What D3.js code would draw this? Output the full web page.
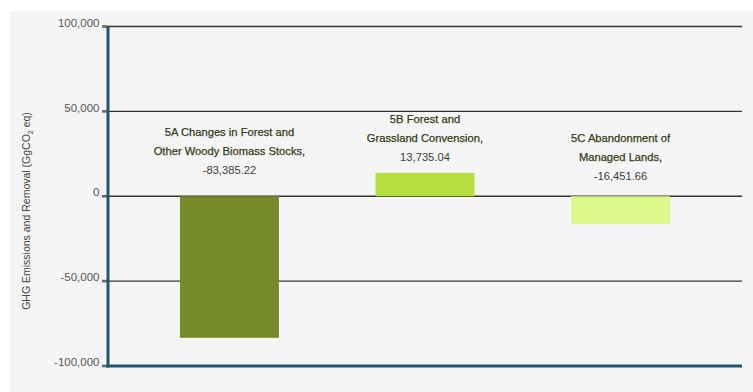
<!DOCTYPE html>
<html>
<head>
<meta charset="utf-8">
<script src="https://cdn.jsdelivr.net/npm/d3@7"></script>
<style>
  html, body { margin: 0; padding: 0; background: #ffffff; }
  svg { display: block; font-family: "Liberation Sans", Arial, Helvetica, sans-serif; }
</style>
</head>
<body>
<svg id="chart" width="753" height="392"></svg>
<script>
// LULUCF sub-categories and their net emissions / removals (GgCO2 eq)
const categories = ["5A", "5B", "5C"];
const labelLines = [
  ["5A Changes in Forest and", "Other Woody Biomass Stocks,"],
  ["5B Forest and", "Grassland Convension,"],
  ["5C Abandonment of", "Managed Lands,"]
];
const values = [-83385.22, 13735.04, -16451.66];
const barColors = ["#778a29", "#b2df3e", "#dbf98b"];
const tickValues = [-100000, -50000, 0, 50000, 100000];

(function draw() {
  const svg = d3.select("#chart");
  const W = 753, H = 392;

  // panel background
  svg.append("rect")
    .attr("x", 10).attr("y", 11)
    .attr("width", W - 10).attr("height", H - 11)
    .attr("fill", "#f5f5f5");

  const plotL = 108, plotR = 742, plotT = 26.5, plotB = 366;

  const y = d3.scaleLinear().domain([-100000, 100000]).range([plotB, plotT]);
  const x = d3.scaleBand().domain(categories).range([plotL, plotR])
    .paddingInner(0.494).paddingOuter(0.368);

  // plain hyphen for negatives
  const hy = f => v => f(v).replace("\u2212", "-");

  // horizontal grid lines
  svg.append("g").selectAll("line")
    .data(tickValues.filter(v => v !== -100000))
    .join("line")
    .attr("x1", plotL).attr("x2", plotR)
    .attr("y1", d => y(d)).attr("y2", d => y(d))
    .attr("stroke", "#333").attr("stroke-width", 1.3);

  // tick marks and labels
  const fmt = hy(d3.format(","));
  const ticks = svg.append("g");
  ticks.selectAll("rect")
    .data(tickValues)
    .join("rect")
    .attr("x", 102).attr("y", d => y(d) - 1.3)
    .attr("width", 6).attr("height", 2.6)
    .attr("fill", "#6a6a6a");
  ticks.selectAll("text")
    .data(tickValues)
    .join("text")
    .attr("x", 99.5).attr("y", d => y(d))
    .attr("dy", "0.02em")
    .attr("text-anchor", "end")
    .attr("font-size", 11.5)
    .attr("fill", "#555")
    .text(d => fmt(d));

  // bars
  svg.append("g").selectAll("rect")
    .data(values)
    .join("rect")
    .attr("x", (d, i) => x(categories[i]))
    .attr("width", x.bandwidth())
    .attr("y", d => y(Math.max(0, d)))
    .attr("height", d => Math.abs(y(d) - y(0)))
    .attr("fill", (d, i) => barColors[i]);

  // value labels above each bar (or above the zero line for removals)
  const valFmt = hy(d3.format(",.2f"));
  const labelGap = [26, 16, 20];
  const lineH = 19;
  const lbl = svg.append("g");
  values.forEach((v, i) => {
    const cx = x(categories[i]) + x.bandwidth() / 2;
    const lastY = y(Math.max(0, v)) - labelGap[i];
    const lines = labelLines[i].concat([valFmt(v)]);
    const n = lines.length;
    lines.forEach((t, j) => {
      lbl.append("text")
        .attr("x", cx)
        .attr("y", lastY - (n - 1 - j) * lineH)
        .attr("dy", "0.35em")
        .attr("text-anchor", "middle")
        .attr("font-size", 11.2)
        .attr("fill", j === n - 1 ? "#404035" : "#333d15")
        .attr("stroke", j === n - 1 ? "none" : "#333d15")
        .attr("stroke-width", 0.25)
        .text(t);
    });
  });

  // axis lines
  svg.append("line")
    .attr("x1", plotL).attr("x2", plotL)
    .attr("y1", plotT).attr("y2", plotB + 1.5)
    .attr("stroke", "#1f5571").attr("stroke-width", 3);
  svg.append("line")
    .attr("x1", plotL - 1.5).attr("x2", plotR)
    .attr("y1", plotB).attr("y2", plotB)
    .attr("stroke", "#1f5571").attr("stroke-width", 3);

  // y-axis title
  const title = svg.append("text")
    .attr("transform", "translate(30,211) rotate(-90)")
    .attr("text-anchor", "middle")
    .attr("font-size", 10.5)
    .attr("fill", "#444");
  title.append("tspan").text("GHG Emissions and Removal (GgCO");
  title.append("tspan").attr("font-size", 7).attr("dy", 3).text("2");
  title.append("tspan").attr("dy", -3).text(" eq)");
})();
</script>
</body>
</html>
